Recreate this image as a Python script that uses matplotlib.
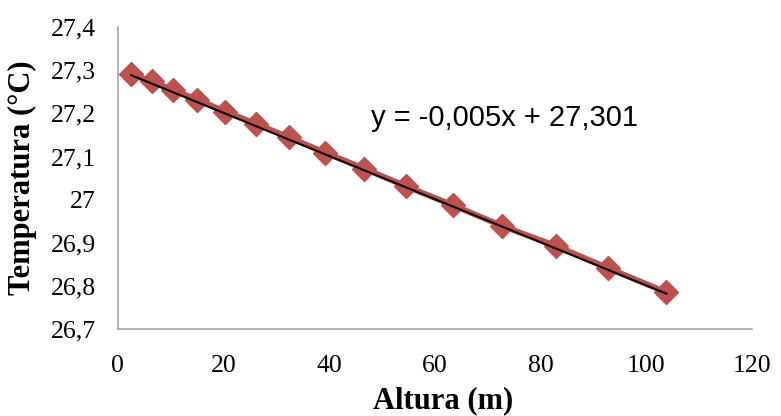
import matplotlib
matplotlib.use("Agg")
import matplotlib.pyplot as plt
import numpy as np
from matplotlib.ticker import FuncFormatter, MultipleLocator

altura = [2.5, 6.4, 10.4, 15.0, 20.3, 26.1, 32.4, 39.2, 46.6, 54.5, 63.4, 72.7, 82.8, 92.8, 103.8]
temperatura = [27.290, 27.274, 27.254, 27.232, 27.204, 27.176, 27.144, 27.109, 27.072, 27.031,
               26.987, 26.939, 26.893, 26.841, 26.785]
slope = -0.005
intercept = 27.301
equation = "y = -0,005x + 27,301"

fig = plt.figure(figsize=(7.81, 4.16), dpi=100)
ax = fig.add_axes([0.151, 0.209, 0.812, 0.726])

ax.plot(altura, temperatura, color="#C0504D", lw=4.2, marker="D", ms=12.5,
        markeredgecolor="#C0504D", zorder=2)
xa = np.array([altura[0], altura[-1]])
ax.plot(xa, intercept + slope * xa, color="black", lw=1.5, zorder=3)

ax.set_xlim(0, 120)
ax.set_ylim(26.7, 27.4)
ax.xaxis.set_major_locator(MultipleLocator(20))
ax.yaxis.set_major_locator(MultipleLocator(0.1))
fmt = FuncFormatter(lambda v, p: ("%g" % round(v, 3)).replace(".", ","))
ax.yaxis.set_major_formatter(fmt)
ax.xaxis.set_major_formatter(FuncFormatter(lambda v, p: "%g" % v))

for s in ["top", "right"]:
    ax.spines[s].set_visible(False)
for s in ["left", "bottom"]:
    ax.spines[s].set_color("#A6A6A6")
    ax.spines[s].set_linewidth(1.2)

ax.tick_params(length=0, labelsize=18.5)
ax.tick_params(axis="y", pad=16)
ax.tick_params(axis="x", pad=19)
for lab in ax.get_xticklabels() + ax.get_yticklabels():
    lab.set_family("Liberation Serif")

ax.set_xlabel("Altura (m)", fontsize=22, fontweight="bold", family="Liberation Serif", va="center")
ax.xaxis.set_label_coords(0.513, -0.238)
ax.set_ylabel("Temperatura (°C)", fontsize=22, fontweight="bold", family="Liberation Serif", va="center")
ax.yaxis.set_label_coords(-0.151, 0.5)

ax.text(0.399, 0.70, equation, transform=ax.transAxes, fontsize=21,
        family="Liberation Sans", ha="left", va="center")

fig.savefig("out.png", dpi=100)
